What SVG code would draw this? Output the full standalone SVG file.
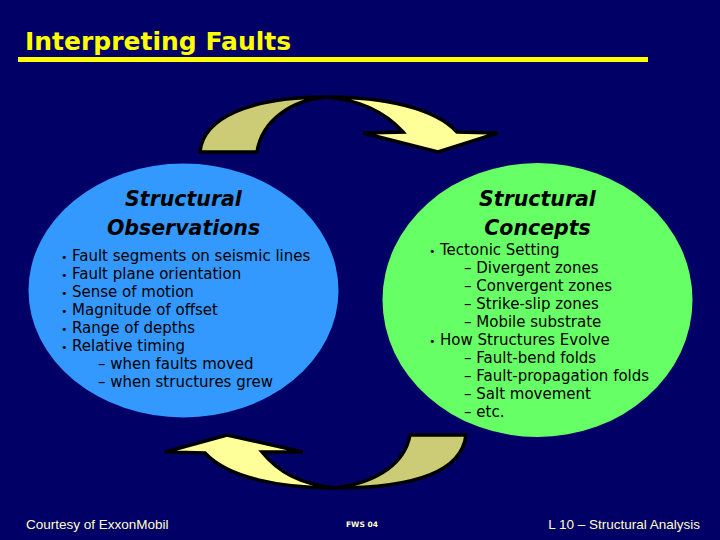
<svg xmlns="http://www.w3.org/2000/svg" width="720" height="540" viewBox="0 0 720 540">
<style>
.title{font-family:"DejaVu Sans",sans-serif;font-weight:bold;font-size:25px;fill:#ffff00}
.head{font-family:"DejaVu Sans",sans-serif;font-weight:bold;font-style:italic;font-size:20.5px;fill:#000;text-anchor:middle}
.body{font-family:"DejaVu Sans",sans-serif;font-size:15px;fill:#000}
.bul{font-family:"DejaVu Sans",sans-serif;font-size:11px;fill:#000}
.foot{font-family:"Liberation Sans",Arial,sans-serif;font-size:13.5px;fill:#ffffcc}
.arr{stroke:#000;stroke-width:3.5;stroke-linejoin:miter}
.dark{fill:#cccc77}
.light{fill:#ffff99}
</style>
<rect width="720" height="540" fill="#000066"/>
<g id="title">
<text class="title" x="25" y="50">Interpreting Faults</text>
<rect x="18" y="57" width="630" height="5" fill="#ffff00"/>
</g>
<g id="connectors">
<g id="arrow-top">
<path class="arr dark" d="M200,152 C203,118 250,97 326,97 C292,100 262,120 257,152 Z"/>
<path class="arr light" d="M326,97 C385,97 435,108 457,132 L498,133 L438,152 L363,133 L403,132 C385,112 360,100 326,97 Z"/>
</g>
<g id="arrow-bottom">
<path class="arr dark" d="M410,435 L466,435 C462,470 420,488 335,488 C380,482 405,462 410,435 Z"/>
<path class="arr light" d="M227,435 L303,452 L262,452 C278,472 300,484 335,488 C280,488 228,478 205,453 L165,452 Z"/>
</g>
</g>
<g id="observations">
<ellipse cx="183.5" cy="290.5" rx="155" ry="127" fill="#3399ff"/>
<text class="head" x="183.5" y="206">Structural</text>
<text class="head" x="183.5" y="235">Observations</text>
<text class="bul" x="61" y="261">•</text><text class="body" x="72" y="261">Fault segments on seismic lines</text>
<text class="bul" x="61" y="279">•</text><text class="body" x="72" y="279">Fault plane orientation</text>
<text class="bul" x="61" y="297">•</text><text class="body" x="72" y="297">Sense of motion</text>
<text class="bul" x="61" y="315">•</text><text class="body" x="72" y="315">Magnitude of offset</text>
<text class="bul" x="61" y="333">•</text><text class="body" x="72" y="333">Range of depths</text>
<text class="bul" x="61" y="351">•</text><text class="body" x="72" y="351">Relative timing</text>
<text class="body" x="98" y="369">– when faults moved</text>
<text class="body" x="98" y="387">– when structures grew</text>
</g>
<g id="concepts">
<ellipse cx="537.5" cy="300" rx="155" ry="137" fill="#66ff66"/>
<text class="head" x="537.5" y="206">Structural</text>
<text class="head" x="537.5" y="235">Concepts</text>
<text class="bul" x="429" y="255">•</text><text class="body" x="440" y="255">Tectonic Setting</text>
<text class="body" x="464" y="273">– Divergent zones</text>
<text class="body" x="464" y="291">– Convergent zones</text>
<text class="body" x="464" y="309">– Strike-slip zones</text>
<text class="body" x="464" y="327">– Mobile substrate</text>
<text class="bul" x="429" y="345">•</text><text class="body" x="440" y="345">How Structures Evolve</text>
<text class="body" x="464" y="363">– Fault-bend folds</text>
<text class="body" x="464" y="381">– Fault-propagation folds</text>
<text class="body" x="464" y="399">– Salt movement</text>
<text class="body" x="464" y="417">– etc.</text>
</g>
<g id="footer">
<text class="foot" x="26" y="529">Courtesy of ExxonMobil</text>
<text x="346" y="527" style="font-family:'DejaVu Sans',sans-serif;font-size:7.5px;font-weight:bold;fill:#ffffcc">FWS 04</text>
<text class="foot" x="700" y="529" text-anchor="end">L 10 – Structural Analysis</text>
</g>
</svg>
